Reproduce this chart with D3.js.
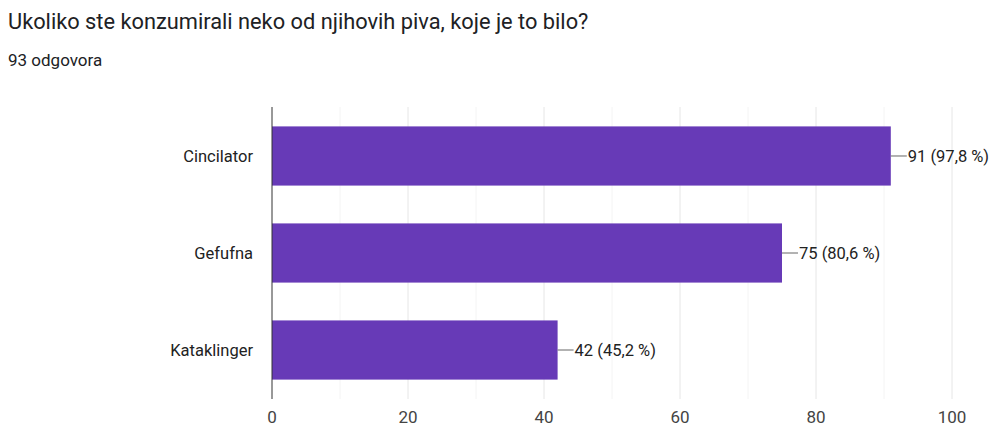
<!DOCTYPE html>
<html>
<head>
<meta charset="utf-8">
<script src="https://cdn.jsdelivr.net/npm/d3@7"></script>
<style>
  body { margin: 0; background: #fff; font-family: Roboto, Arial, sans-serif; }
  svg text { font-family: Roboto, Arial, sans-serif; }
</style>
</head>
<body>
<svg id="chart" width="998" height="426"></svg>
<script>
const title = "Ukoliko ste konzumirali neko od njihovih piva, koje je to bilo?";
const subtitle = "93 odgovora";
const categories = ["Cincilator", "Gefufna", "Kataklinger"];
const counts = [91, 75, 42];
const percents = ["97,8", "80,6", "45,2"];
const xTicks = [0, 20, 40, 60, 80, 100];
const xMinor = [10, 30, 50, 70, 90];

const svg = d3.select("#chart");
const plotLeft = 272, plotRight = 952, plotTop = 107, plotBottom = 399;

const x = d3.scaleLinear().domain([0, 100]).range([plotLeft, plotRight]);
const y = d3.scaleBand().domain(categories).range([plotTop, plotBottom])
  .paddingInner(0.39).paddingOuter(0.2);

svg.append("text")
  .attr("x", 8).attr("y", 29)
  .attr("font-size", "21.8px")
  .attr("fill", "#202124")
  .text(title);

svg.append("text")
  .attr("x", 8).attr("y", 66)
  .attr("font-size", "17px")
  .attr("fill", "#202124")
  .text(subtitle);

//griglia
svg.append("g").selectAll("line").data(xMinor).join("line")
  .attr("x1", d => x(d)).attr("x2", d => x(d))
  .attr("y1", plotTop).attr("y2", plotBottom)
  .attr("stroke", "#f4f4f4");
svg.append("g").selectAll("line").data(xTicks.slice(1)).join("line")
  .attr("x1", d => x(d)).attr("x2", d => x(d))
  .attr("y1", plotTop).attr("y2", plotBottom)
  .attr("stroke", "#e6e6e6");

const data = categories.map((c, i) => ({ c, v: counts[i], p: percents[i] }));

svg.append("g").selectAll("rect").data(data).join("rect")
  .attr("x", x(0)).attr("y", d => y(d.c))
  .attr("width", d => x(d.v) - x(0))
  .attr("height", y.bandwidth())
  .attr("fill", "#673ab7");

//asse verticale
svg.append("line")
  .attr("x1", x(0)).attr("x2", x(0))
  .attr("y1", plotTop).attr("y2", plotBottom)
  .attr("stroke", "#333").attr("stroke-width", 1);

svg.append("g").selectAll("text").data(categories).join("text")
  .attr("x", 253).attr("y", d => y(d) + y.bandwidth() / 2)
  .attr("dy", "0.36em")
  .attr("text-anchor", "end")
  .attr("font-size", "16.5px")
  .attr("fill", "#222")
  .text(d => d);

const lbl = svg.append("g").selectAll("g").data(data).join("g")
  .attr("transform", d => `translate(${x(d.v)},${y(d.c) + y.bandwidth() / 2})`);
lbl.append("line").attr("x1", 0).attr("x2", 16)
  .attr("stroke", "#666").attr("stroke-width", 1);
lbl.append("text").attr("x", 17).attr("dy", "0.36em")
  .attr("font-size", "16.5px").attr("fill", "#222")
  .text(d => `${d.v} (${d.p} %)`);

svg.append("g").selectAll("text").data(xTicks).join("text")
  .attr("x", d => x(d)).attr("y", 423)
  .attr("text-anchor", "middle")
  .attr("font-size", "17px")
  .attr("fill", "#444")
  .text(d => d);
</script>
</body>
</html>
